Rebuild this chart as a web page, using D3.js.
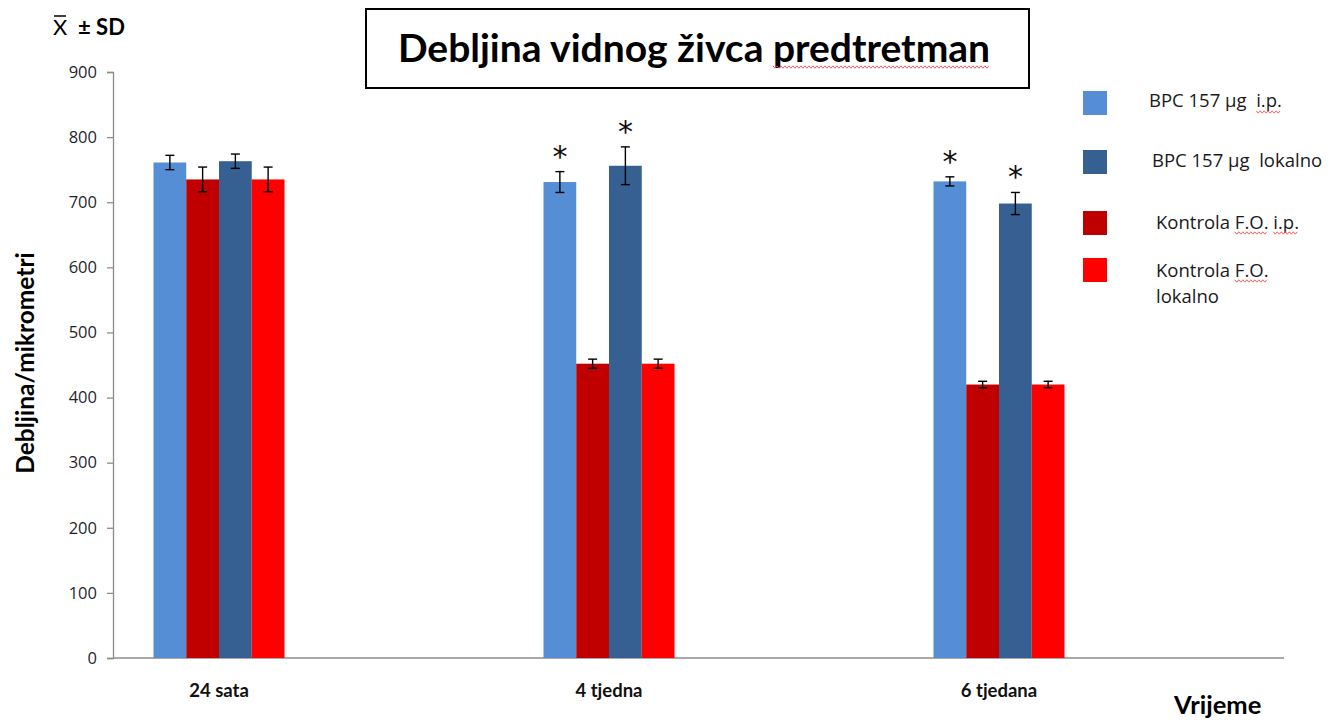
<!DOCTYPE html>
<html>
<head>
<meta charset="utf-8">
<script src="https://cdn.jsdelivr.net/npm/d3@7"></script>
<style>
  html, body { margin: 0; padding: 0; background: #fff; }
  svg { display: block; }
  text { font-family: Lato, "Open Sans", sans-serif; white-space: pre; }
</style>
</head>
<body>
<svg id="chart" width="1331" height="722"></svg>
<script>
// Optic nerve thickness (µm), mean ± SD, per time point and treatment group
const categories = ["24 sata", "4 tjedna", "6 tjedana"];
const seriesNames = ["BPC 157 µg  i.p.", "BPC 157 µg  lokalno", "Kontrola F.O. i.p.", "Kontrola F.O. lokalno"];
const seriesColors = ["#558ed5", "#376092", "#c00000", "#ff0000"];
// bar order inside each group: light blue, dark red, dark blue, red
const barOrder = [0, 2, 1, 3];

const bpcIp       = [761, 731, 732];
const bpcLokalno  = [763, 756, 698];
const fokIp       = [735, 452, 420];
const fokLokalno  = [735, 452, 420];

const sdBpcIp      = [11, 16, 7];
const sdBpcLokalno = [11, 29, 17];
const sdFokIp      = [19, 7, 5];
const sdFokLokalno = [19, 7, 5];

// significance marks (*) vs. control
const sigBpcIp      = [false, true, true];
const sigBpcLokalno = [false, true, true];

const yTicks = [0, 100, 200, 300, 400, 500, 600, 700, 800, 900];

const values = [bpcIp, bpcLokalno, fokIp, fokLokalno];
const sds = [sdBpcIp, sdBpcLokalno, sdFokIp, sdFokLokalno];
const sigs = [sigBpcIp, sigBpcLokalno, [false, false, false], [false, false, false]];

const svg = d3.select("#chart");

const axisLeft = 113, axisRight = 1284;
const y = d3.scaleLinear().domain([0, 900]).range([658, 72]);
const x = d3.scalePoint().domain(categories).range([219, 999]);
const xs = d3.scaleBand().domain(barOrder).range([-65.5, 65.5]).padding(0);

// y axis
const yAxis = svg.append("g")
  .attr("transform", `translate(${axisLeft},0)`)
  .call(d3.axisLeft(y).tickValues(yTicks).tickSize(6).tickPadding(10).tickFormat(d3.format("d")));
yAxis.select(".domain").attr("stroke", "#8c8c8c").attr("stroke-width", 1.3);
yAxis.selectAll(".tick line").attr("stroke", "#8c8c8c").attr("stroke-width", 1.3);
yAxis.selectAll(".tick text")
  .attr("fill", "#1f1f2e")
  .style("font-size", "16.5px")
  .style("font-family", "'Open Sans', sans-serif");

// x axis line
svg.append("line")
  .attr("x1", axisLeft).attr("x2", axisRight)
  .attr("y1", y(0)).attr("y2", y(0))
  .attr("stroke", "#8c8c8c").attr("stroke-width", 1.3);

// category labels
svg.append("g").selectAll("text")
  .data(categories).join("text")
  .attr("x", d => x(d))
  .attr("y", 697)
  .attr("text-anchor", "middle")
  .style("font-size", "18.5px")
  .style("font-weight", "700")
  .attr("fill", "#111")
  .text(d => d);

// bars
const rows = [];
categories.forEach((c, ci) => {
  barOrder.forEach(si => {
    rows.push({ c, ci, si, v: values[si][ci], sd: sds[si][ci], sig: sigs[si][ci] });
  });
});

svg.append("g").selectAll("rect")
  .data(rows).join("rect")
  .attr("x", d => x(d.c) + xs(d.si))
  .attr("y", d => y(d.v))
  .attr("width", xs.bandwidth())
  .attr("height", d => y(0) - y(d.v))
  .attr("fill", d => seriesColors[d.si]);

// error bars
const err = svg.append("g").attr("stroke", "#000").attr("stroke-width", 1.4);
rows.forEach(d => {
  const cx = x(d.c) + xs(d.si) + xs.bandwidth() / 2;
  const top = y(d.v + d.sd), bot = y(d.v - d.sd);
  err.append("line").attr("x1", cx).attr("x2", cx).attr("y1", top).attr("y2", bot);
  err.append("line").attr("x1", cx - 4.5).attr("x2", cx + 4.5).attr("y1", top).attr("y2", top);
  err.append("line").attr("x1", cx - 4.5).attr("x2", cx + 4.5).attr("y1", bot).attr("y2", bot);
});

// significance asterisks
svg.append("g").selectAll("text")
  .data(rows.filter(d => d.sig)).join("text")
  .attr("x", d => x(d.c) + xs(d.si) + xs.bandwidth() / 2)
  .attr("y", d => y(d.v + d.sd) - 5)
  .attr("text-anchor", "middle")
  .style("font-family", "'DejaVu Sans', sans-serif")
  .style("font-size", "30px")
  .attr("fill", "#111")
  .text("*");

// red wavy spell-check style underline
function wavy(x0, x1, yy) {
  const pts = [];
  let up = true;
  for (let xx = x0; xx <= x1; xx += 2) { pts.push([xx, up ? yy - 1.2 : yy + 1.2]); up = !up; }
  svg.append("path")
    .attr("d", d3.line()(pts))
    .attr("fill", "none").attr("stroke", "#ff4b4b").attr("stroke-width", 0.9);
}
function underlineWord(textSel, word, yy) {
  const node = textSel.node();
  const s = node.textContent;
  const i = s.lastIndexOf(word);
  if (i < 0) return;
  const anchor = textSel.attr("text-anchor");
  const total = node.getComputedTextLength();
  let start = +textSel.attr("x");
  if (anchor === "middle") start -= total / 2;
  const off = i > 0 ? node.getSubStringLength(0, i) : 0;
  const w = node.getSubStringLength(i, word.length);
  wavy(start + off, start + off + w, yy);
}

// title box
svg.append("rect")
  .attr("x", 366).attr("y", 9).attr("width", 663).attr("height", 79)
  .attr("fill", "#fff").attr("stroke", "#000").attr("stroke-width", 2);
const title = svg.append("text")
  .attr("x", 694).attr("y", 62)
  .attr("text-anchor", "middle")
  .style("font-size", "39px").style("font-weight", "700")
  .attr("fill", "#000")
  .text("Debljina vidnog živca predtretman");
underlineWord(title, "predtretman", 67);

// stat label: mean (X with overbar) ± SD
const stat = svg.append("text")
  .attr("x", 53).attr("y", 35)
  .style("font-size", "22px")
  .attr("fill", "#000");
stat.append("tspan").style("font-weight", "400").text("X");
stat.append("tspan").style("font-weight", "700").text("  ± SD");
svg.append("line")
  .attr("x1", 54).attr("x2", 66)
  .attr("y1", 16).attr("y2", 16)
  .attr("stroke", "#000").attr("stroke-width", 1.5);

// y axis title
svg.append("text")
  .attr("transform", "translate(34,363) rotate(-90)")
  .attr("text-anchor", "middle")
  .style("font-size", "24.5px").style("font-weight", "700")
  .attr("fill", "#000")
  .text("Debljina/mikrometri");

// x axis title
svg.append("text")
  .attr("x", 1174).attr("y", 714)
  .style("font-size", "25.5px").style("font-weight", "700")
  .attr("fill", "#000")
  .text("Vrijeme");

// legend
const legendSquares = [91, 150, 211, 258];
const legendLabelX = [1149, 1152, 1156, 1156];
const legend = svg.append("g");
seriesNames.forEach((name, i) => {
  legend.append("rect")
    .attr("x", 1083).attr("y", legendSquares[i])
    .attr("width", 24).attr("height", 24)
    .attr("fill", seriesColors[i]);
});
const legTxt = (tx, ty, s) => legend.append("text")
  .attr("x", tx).attr("y", ty)
  .style("font-size", "18.5px")
  .style("font-family", "'Open Sans', sans-serif")
  .attr("fill", "#1a1a1a")
  .text(s);
const l0 = legTxt(legendLabelX[0], 107, seriesNames[0]);
underlineWord(l0, "i.p.", 112);
legTxt(legendLabelX[1], 167, seriesNames[1]);
const l2 = legTxt(legendLabelX[2], 229, seriesNames[2]);
underlineWord(l2, "F.O.", 233);
underlineWord(l2, "i.p.", 233);
const l3 = legTxt(legendLabelX[3], 277, "Kontrola F.O.");
underlineWord(l3, "F.O.", 281);
legTxt(legendLabelX[3], 303, "lokalno");
</script>
</body>
</html>
